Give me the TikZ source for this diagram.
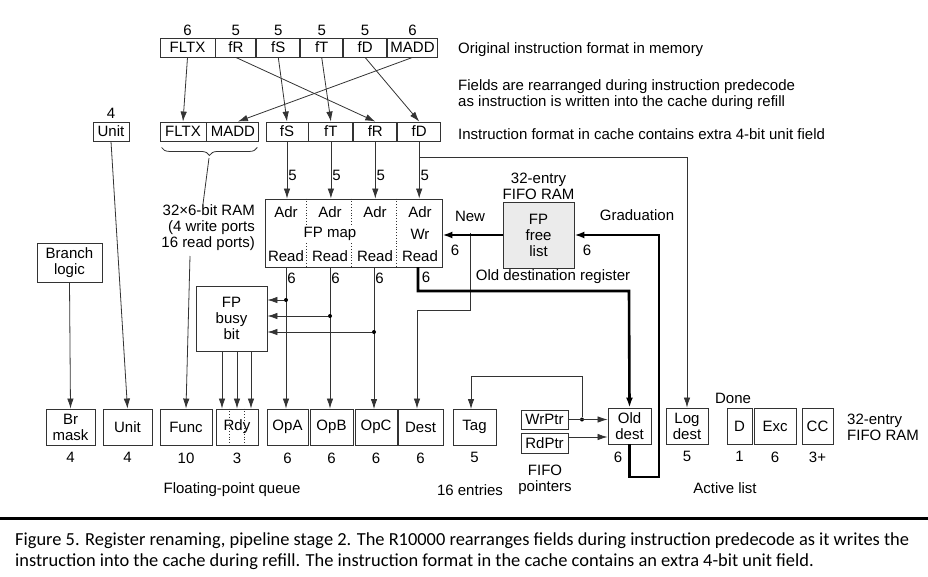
\documentclass[tikz,border=0pt]{standalone}
\usepackage{fontspec}
\setmainfont{Liberation Sans}
\newfontfamily\capfont{Carlito}
\usetikzlibrary{arrows.meta,positioning,decorations.pathreplacing}

\tikzset{
  every node/.style={font=\fontsize{15}{16}\selectfont},
  box/.style={draw=black!80, line width=0.9pt, inner sep=0pt, minimum height=19pt, align=center},
  qbox/.style={box, minimum height=36pt},
  lbl/.style={inner sep=1pt, align=center},
  wire/.style={draw=black!80, line width=0.8pt},
  arr/.style={wire, -{Latex[length=10pt,width=6.5pt]}},
  bus/.style={draw=black, line width=2.6pt},
  busarr/.style={bus, -{Latex[length=10pt,width=7pt]}},
  jdot/.style={circle, fill=black, inner sep=0pt, minimum size=4pt},
}

\begin{document}
\begin{tikzpicture}[x=1pt,y=-1pt]
  \useasboundingbox (0,0) rectangle (928,576);

  % instruction in memory
  \node[box, minimum width=55pt] (fltx) at (187.5,47.5) {FLTX};
  \node[box, minimum width=40pt, right=0pt of fltx] (fr) {fR};
  \node[box, minimum width=43pt, right=0pt of fr] (fs) {fS};
  \node[box, minimum width=42pt, right=0pt of fs] (ft) {fT};
  \node[box, minimum width=43pt, right=0pt of ft] (fd) {fD};
  \node[box, minimum width=50pt, right=0pt of fd] (madd) {MADD};

  \node[lbl, above=1pt of fltx] (w1) {6};
  \node[lbl, above=1pt of fr] (w2) {5};
  \node[lbl, above=1pt of fs] (w3) {5};
  \node[lbl, above=1pt of ft] (w4) {5};
  \node[lbl, above=1pt of fd] (w5) {5};
  \node[lbl, above=1pt of madd] (w6) {6};

  % instruction in cache
  \node[box, minimum width=36pt] (unitc) at (111,131.5) {Unit};
  \node[lbl, above=2pt of unitc] (w0) {4};
  \node[box, minimum width=46pt] (fltxc) at (183,131.5) {FLTX};
  \node[box, minimum width=52pt, right=0pt of fltxc] (maddc) {MADD};
  \node[box, minimum width=42pt] (fsc) at (287,131.5) {fS};
  \node[box, minimum width=44pt, right=0pt of fsc] (ftc) {fT};
  \node[box, minimum width=43pt, right=0pt of ftc] (frc) {fR};
  \node[box, minimum width=43pt, right=0pt of frc] (fdc) {fD};

  \node[lbl, anchor=west] (t1) at (457,50) {Original instruction format in memory};
  \node[lbl, anchor=west, align=left] (t2) at (457,95) {Fields are rearranged during instruction predecode\\as instruction is written into the cache during refill};
  \node[lbl, anchor=west] (t3) at (457,134) {Instruction format in cache contains extra 4-bit unit field};

  \draw[arr] (fltx.south) -- (fltxc.north);
  \draw[arr] (fr.south) -- (frc.north);
  \draw[arr] (fs.south) -- (fsc.north);
  \draw[arr] (ft.south) -- (ftc.north);
  \draw[arr] (fd.south) -- (fdc.north);
  \draw[arr] (madd.south) -- ([xshift=5pt]maddc.north);

  % FP map
  \node[box, minimum width=177pt, minimum height=68pt] (fpmap) at (353.5,233) {};
  \draw[black!80, dotted, line width=0.8pt] ([xshift=42pt]fpmap.north west) -- ([xshift=42pt]fpmap.south west);
  \draw[black!80, dotted, line width=0.8pt] ([xshift=87pt]fpmap.north west) -- ([xshift=87pt]fpmap.south west);
  \draw[black!80, dotted, line width=0.8pt] ([xshift=132pt]fpmap.north west) -- ([xshift=132pt]fpmap.south west);
  \node[lbl, fill=white] (fpmapl) at (330,234) {FP map};
  \node[lbl] (adrA) at (286,212) {Adr};
  \node[lbl] (adrB) at (330,212) {Adr};
  \node[lbl] (adrC) at (375,212) {Adr};
  \node[lbl] (adrD) at (420,212) {Adr};
  \node[lbl] (wr) at (420,234) {Wr};
  \node[lbl] (rdA) at (286,256) {Read};
  \node[lbl] (rdB) at (330,256) {Read};
  \node[lbl] (rdC) at (375,256) {Read};
  \node[lbl] (rdD) at (420,256) {Read};

  \draw[arr] (fsc.south) -- (fsc.south |- fpmap.north) node[lbl, right, pos=0.6] (i5a) {5};
  \draw[arr] (ftc.south) -- (ftc.south |- fpmap.north) node[lbl, right, pos=0.6] (i5b) {5};
  \draw[arr] (frc.south) -- (frc.south |- fpmap.north) node[lbl, right, pos=0.6] (i5c) {5};
  \draw[arr] (fdc.south) -- (fdc.south |- fpmap.north) node[lbl, right, pos=0.6] (i5d) {5};

  % 32x6-bit RAM
  \draw[wire, decorate, decoration={brace, mirror, amplitude=8pt}]
    ([xshift=2pt,yshift=-6pt]fltxc.south west) -- ([xshift=-2pt,yshift=-6pt]maddc.south east);
  \coordinate (bt) at (209,158);
  \coordinate (ramtop) at (203,204);
  \coordinate (ramlo) at (190,256);
  \node[lbl, align=right, anchor=north east] (ram) at (256,203) {32×6-bit RAM\\(4 write ports\\16 read ports)};
  \draw[wire] (bt) -- (ramtop);

  % floating-point queue
  \node[qbox, minimum width=49pt] (brm) at (70.5,427) {Br\\mask};
  \node[qbox, minimum width=49pt] (unitq) at (127.5,427) {Unit};
  \node[qbox, minimum width=52pt] (func) at (186,427) {Func};
  \node[qbox, minimum width=42pt] (rdy) at (237,427) {Rdy};
  \node[qbox, minimum width=41pt] (opa) at (287.5,427) {OpA};
  \node[qbox, minimum width=43pt] (opb) at (331.5,427) {OpB};
  \node[qbox, minimum width=42pt] (opc) at (376,427) {OpC};
  \node[qbox, minimum width=45pt] (dest) at (420.5,427) {Dest};
  \node[qbox, minimum width=43pt] (tag) at (474.5,427) {Tag};
  \draw[black!80, dotted, line width=0.8pt] ([xshift=14pt]rdy.north west) -- ([xshift=14pt]rdy.south west);
  \draw[black!80, dotted, line width=0.8pt] ([xshift=29pt]rdy.north west) -- ([xshift=29pt]rdy.south west);

  \node[lbl, below=6pt of brm] (b1) {4};
  \node[lbl, below=6pt of unitq] (b2) {4};
  \node[lbl, below=6pt of func] (b3) {10};
  \node[lbl, below=6pt of rdy] (b4) {3};
  \node[lbl, below=6pt of opa] (b5) {6};
  \node[lbl, below=6pt of opb] (b6) {6};
  \node[lbl, below=6pt of opc] (b7) {6};
  \node[lbl, below=6pt of dest] (b8) {6};
  \node[lbl, below=6pt of tag] (b9) {5};
  \node[lbl] (fpq) at (232,490) {Floating-point queue};
  \node[lbl] (ent) at (470,490) {16 entries};

  \node[box, minimum width=65pt, minimum height=39pt] (branch) at (69.5,262.5) {Branch\\logic};
  \draw[arr] (branch.south) -- (brm.north);
  \draw[arr] (unitc.south) -- (unitq.north);
  \draw[arr] (ramlo) -- (func.north);

  % busy bits
  \node[box, minimum width=71pt, minimum height=65pt] (busy) at (231.5,318.5) {FP\\busy\\bit};
  \draw[arr] (rdA |- fpmap.south) -- (rdA |- opa.north) node[lbl, right, pos=0.08] (o6a) {6};
  \draw[arr] (rdB |- fpmap.south) -- (rdB |- opb.north) node[lbl, right, pos=0.08] (o6b) {6};
  \draw[arr] (374,267) -- (374,409) node[lbl, right, pos=0.08] (o6c) {6};
  \node[jdot] (dA) at (rdA |- 0,300) {};
  \node[jdot] (dB) at (rdB |- 0,316) {};
  \node[jdot] (dC) at (374,332) {};
  \draw[arr] (dA) -- (dA -| busy.east);
  \draw[arr] (dB) -- (dB -| busy.east);
  \draw[arr] (dC) -- (dC -| busy.east);
  \coordinate (rdy1) at ([xshift=-15pt]rdy.north);
  \coordinate (rdy2) at (rdy.north);
  \coordinate (rdy3) at ([xshift=14pt]rdy.north);
  \draw[arr] (rdy1 |- busy.south) -- (rdy1);
  \draw[arr] (rdy2 |- busy.south) -- (rdy2);
  \draw[arr] (rdy3 |- busy.south) -- (rdy3);

  % free list and active list
  \node[box, fill=black!8, minimum width=71pt, minimum height=66pt] (free) at (538.5,235) {FP\\free\\list};
  \node[lbl, above=1pt of free] (fifo) {32-entry\\FIFO RAM};
  \node[box, minimum width=47pt] (wrp) at (544.5,419.5) {WrPtr};
  \node[box, minimum width=47pt, minimum height=20pt] (rdp) at (544.5,443) {RdPtr};
  \node[qbox, minimum width=43pt] (oldd) at (629.5,426) {Old\\dest};
  \node[qbox, minimum width=42pt] (logd) at (687,426) {Log\\dest};
  \node[qbox, minimum width=25pt] (dbit) at (739.5,426) {D};
  \node[qbox, minimum width=42pt] (exc) at (775,426) {Exc};
  \node[qbox, minimum width=31pt] (cc) at (817.5,426) {CC};

  \node[lbl] (a1) at (618,457) {6};
  \node[lbl, below=6pt of logd] (a2) {5};
  \node[lbl, below=6pt of dbit] (a3) {1};
  \node[lbl, below=6pt of exc] (a4) {6};
  \node[lbl, below=6pt of cc] (a5) {3+};
  \node[lbl] (done) at (733,398) {Done};
  \node[lbl, anchor=west, align=left] (fifo2) at (846,427) {32-entry\\FIFO RAM};
  \node[lbl] (ptrs) at (545,480) {FIFO\\pointers};
  \node[lbl] (act) at (725,488) {Active list};

  \node[lbl] (new) at (470,216) {New};
  \node[lbl] (n6) at (455,250) {6};
  \node[lbl] (grad) at (637,215) {Graduation};
  \node[lbl] (g6) at (587,250) {6};
  \node[lbl] (odr) at (553,277) {Old destination register};
  \node[lbl] (r6) at (426,277) {6};

  \coordinate (nb) at (470,233);
  \coordinate (dj) at (417,310);
  \draw[arr] (nb) |- (dj) -- (dj |- dest.north);
  \draw[busarr] (free.west) -- (free.west -| fpmap.east);

  \coordinate (fdj) at (fdc.south |- 0,157);
  \draw[arr] (fdj) -| (logd.north);

  \draw[busarr] (418,267) |- (629,291) -- (oldd.north);
  \draw[busarr] (oldd.south) |- (659,477) |- (free.east);

  \node[jdot] (wdot) at (582,419.5) {};
  \draw[arr] (wrp.east) -- (wrp.east -| oldd.west);
  \draw[arr] (rdp.east |- 0,437) -- (oldd.west |- 0,437);
  \draw[arr] (wdot) |- (471,376) -- (471,409);

  % caption
  \draw[line width=3pt] (0,518) -- (928,518);
  \node[anchor=west, align=left, inner sep=0pt, font=\capfont\fontsize{18.4}{20.5}\selectfont] (cap) at (15,551)
    {Figure 5. Register renaming, pipeline stage 2. The R10000 rearranges fields during instruction predecode as it writes the\\
     instruction into the cache during refill. The instruction format in the cache contains an extra 4-bit unit field.};
\end{tikzpicture}
\end{document}
